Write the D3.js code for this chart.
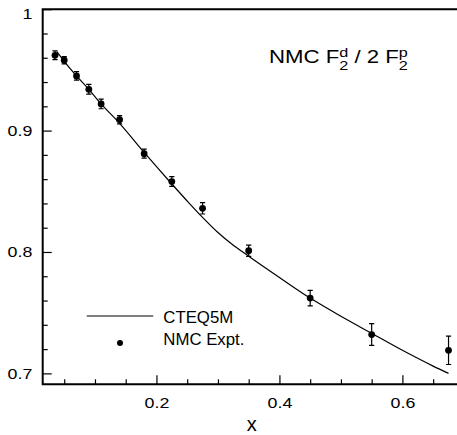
<!DOCTYPE html>
<html>
<head>
<meta charset="utf-8">
<script src="https://cdn.jsdelivr.net/npm/d3@7"></script>
<style>
  html, body { margin: 0; padding: 0; background: #fff; }
  svg { display: block; font-family: "Liberation Sans", Arial, Helvetica, sans-serif; }
</style>
</head>
<body>
<svg id="chart" width="457" height="435"></svg>
<script>
// ---- Data ----
const nmcX   = [0.035, 0.05, 0.07, 0.09, 0.11, 0.14, 0.18, 0.225, 0.275, 0.35, 0.45, 0.55, 0.675];
const nmcY   = [0.962, 0.958, 0.945, 0.934, 0.922, 0.909, 0.881, 0.858, 0.836, 0.801, 0.762, 0.732, 0.719];
const nmcErr = [0.0036, 0.003, 0.0035, 0.004, 0.004, 0.0034, 0.0037, 0.004, 0.0047, 0.0047, 0.0064, 0.009, 0.0117];

const cteqX = [0.038, 0.05, 0.07, 0.09, 0.11, 0.14, 0.18, 0.225, 0.25, 0.275, 0.30, 0.325, 0.35, 0.40, 0.45, 0.50, 0.55, 0.60, 0.65, 0.675];
const cteqY = [0.965, 0.957, 0.945, 0.934, 0.922, 0.906, 0.882, 0.856, 0.842, 0.8285, 0.816, 0.8055, 0.7965, 0.779, 0.762, 0.747, 0.733, 0.719, 0.706, 0.700];

const xMajor = [0.2, 0.4, 0.6];
const xMinor = [0.05, 0.1, 0.15, 0.25, 0.3, 0.35, 0.45, 0.5, 0.55, 0.65];
const yMajor = [0.7, 0.8, 0.9, 1.0];
const yMinor = [0.72, 0.74, 0.76, 0.78, 0.82, 0.84, 0.86, 0.88, 0.92, 0.94, 0.96, 0.98];

const legendLabels = ["CTEQ5M", "NMC Expt."];
const xLabel = "x";

// ---- Layout ----
const svg = d3.select("#chart");
svg.append("rect").attr("width", 457).attr("height", 435).attr("fill", "#fff");

const x = d3.scaleLinear().domain([0.015, 0.7]).range([42.7, 463.9]);
const y = d3.scaleLinear().domain([0.691, 1.0]).range([384.3, 9.2]);
const fmt = d3.format(".1f");
const yFmt = v => (v === 1 ? "1" : fmt(v));

// x axis
const gx = svg.append("g").attr("transform", `translate(0,${y.range()[0]})`);
gx.call(d3.axisBottom(x).tickValues(xMajor).tickSizeInner(-9).tickSizeOuter(0).tickPadding(12.5).tickFormat(fmt));
gx.append("g").call(d3.axisBottom(x).tickValues(xMinor).tickSizeInner(-5).tickSizeOuter(0).tickFormat(""));
gx.selectAll(".domain").remove();
gx.selectAll("line").attr("stroke", "#000").attr("stroke-width", 1.2);
gx.selectAll("text").attr("font-size", 15.5).attr("fill", "#000")
  .attr("font-family", "Liberation Sans, Arial, sans-serif")
  .attr("transform", "scale(1.15,1)");

// y axis
const gy = svg.append("g").attr("transform", `translate(${x.range()[0]},0)`);
gy.call(d3.axisLeft(y).tickValues(yMajor).tickSizeInner(-9).tickSizeOuter(0).tickPadding(9).tickFormat(yFmt));
gy.append("g").call(d3.axisLeft(y).tickValues(yMinor).tickSizeInner(-5).tickSizeOuter(0).tickFormat(""));
gy.selectAll(".domain").remove();
gy.selectAll("line").attr("stroke", "#000").attr("stroke-width", 1.2);
gy.selectAll("text").attr("font-size", 15.5).attr("fill", "#000")
  .attr("font-family", "Liberation Sans, Arial, sans-serif")
  .attr("transform", "scale(1.15,1)")
  .attr("dy", d => (d === 1 ? "0.6em" : "0.32em"));

// frame
const [x0, x1] = x.range();
const [yb, yt] = y.range();
svg.append("path")
  .attr("d", `M${x1},${yt}H${x0}V${yb}H${x1}`)
  .attr("fill", "none").attr("stroke", "#000").attr("stroke-width", 2);

// x label
svg.append("text").attr("x", 251.7).attr("y", 430.5)
  .attr("text-anchor", "middle").attr("font-size", 20).attr("fill", "#000").text(xLabel);

// CTEQ curve
const line = d3.line().x(d => x(d[0])).y(d => y(d[1])).curve(d3.curveMonotoneX);
svg.append("path").datum(d3.zip(cteqX, cteqY))
  .attr("d", line).attr("fill", "none").attr("stroke", "#000").attr("stroke-width", 1.2);

// NMC points with error bars
const pts = nmcX.map((v, i) => ({ x: v, y: nmcY[i], e: nmcErr[i] }));
const gp = svg.append("g");
const cap = 2.6;
gp.selectAll("path.err").data(pts).join("path").attr("class", "err")
  .attr("d", d => {
    const px = x(d.x), ylo = y(d.y - d.e), yhi = y(d.y + d.e);
    return `M${px},${ylo}V${yhi}M${px - cap},${yhi}H${px + cap}M${px - cap},${ylo}H${px + cap}`;
  })
  .attr("stroke", "#000").attr("stroke-width", 1.2).attr("fill", "none");
gp.selectAll("circle").data(pts).join("circle")
  .attr("cx", d => x(d.x)).attr("cy", d => y(d.y)).attr("r", 3.4).attr("fill", "#000");

// Title: NMC F2^d / 2 F2^p
const tg = svg.append("g").attr("transform", "translate(269,63.3) scale(1.2,1)");
function piece(txt, px, py, fs) {
  const t = tg.append("text").attr("x", px).attr("y", py).attr("font-size", fs).attr("fill", "#000").text(txt);
  return t.node().getComputedTextLength();
}
let cx = 0;
cx += piece("NMC F", cx, 0, 18.5);
const w1 = Math.max(piece("d", cx, -6.6, 13.5), piece("2", cx, 6.7, 13.5));
cx += w1;
cx += piece("\u00a0/ 2 F", cx, 0, 18.5);
piece("p", cx, -6.6, 13.5);
piece("2", cx, 6.7, 13.5);

// Legend
svg.append("line").attr("x1", 86.7).attr("x2", 153.3).attr("y1", 316).attr("y2", 316)
  .attr("stroke", "#000").attr("stroke-width", 1.2);
svg.append("circle").attr("cx", 120).attr("cy", 343).attr("r", 3).attr("fill", "#000");
svg.append("text").attr("x", 163.3).attr("y", 322.7).attr("font-size", 16.8).attr("fill", "#000").text(legendLabels[0]);
svg.append("text").attr("x", 163.3).attr("y", 345).attr("font-size", 16.8).attr("fill", "#000").text(legendLabels[1]);
</script>
</body>
</html>
